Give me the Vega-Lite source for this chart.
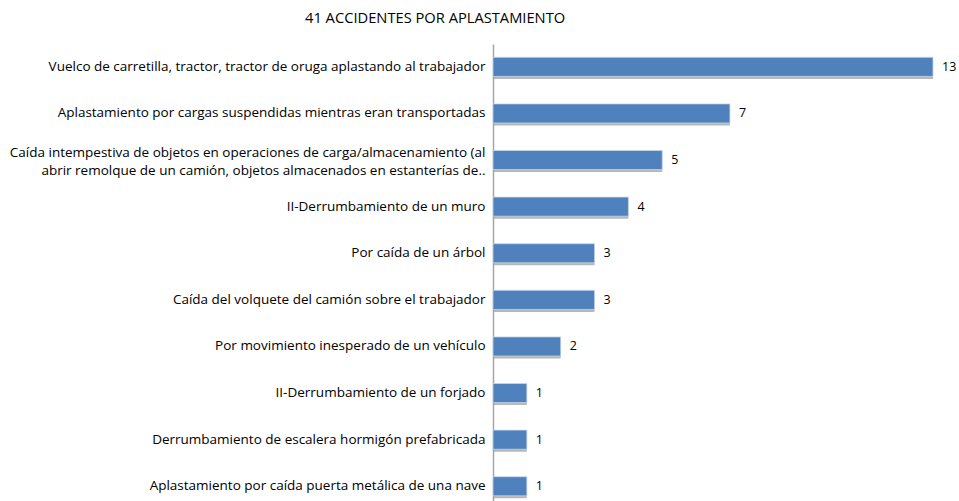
{
  "$schema": "https://vega.github.io/schema/vega-lite/v6.json",
  "autosize": {"type": "none"},
  "padding": {"top": 44, "left": 493, "right": 26, "bottom": 0},
  "width": 440,
  "height": 457,
  "title": {
    "text": "41 ACCIDENTES POR APLASTAMIENTO",
    "anchor": "start",
    "frame": "group",
    "dx": -188,
    "offset": 18,
    "fontSize": 14.7,
    "fontWeight": "normal",
    "font": "Open Sans",
    "color": "#000000"
  },
  "data": {
    "values": [
      {"causa": "Vuelco de carretilla, tractor, tractor de oruga aplastando al trabajador", "n": 13},
      {"causa": "Aplastamiento por cargas suspendidas mientras eran transportadas", "n": 7},
      {"causa": "Caída intempestiva de objetos en operaciones de carga/almacenamiento (al|abrir remolque de un camión, objetos almacenados en estanterías de..", "n": 5},
      {"causa": "II-Derrumbamiento de un muro", "n": 4},
      {"causa": "Por caída de un árbol", "n": 3},
      {"causa": "Caída del volquete del camión sobre el trabajador", "n": 3},
      {"causa": "Por movimiento inesperado de un vehículo", "n": 2},
      {"causa": "II-Derrumbamiento de un forjado", "n": 1},
      {"causa": "Derrumbamiento de escalera hormigón prefabricada", "n": 1},
      {"causa": "Aplastamiento por caída puerta metálica de una nave", "n": 1}
    ]
  },
  "encoding": {
    "y": {
      "field": "causa",
      "type": "nominal",
      "sort": null,
      "scale": {"paddingInner": 0.59, "paddingOuter": 0.198, "align": 0.72},
      "axis": {
        "title": null,
        "ticks": false,
        "domainColor": "#a6a6a6",
        "domainWidth": 1.5,
        "labelFont": "Open Sans",
        "labelFontSize": 13.5,
        "labelColor": "#000000",
        "labelLimit": 0,
        "labelPadding": 8,
        "labelLineHeight": 18,
        "labelOffset": {"condition": {"test": "indexof(datum.value, '|') >= 0", "value": -7}, "value": 0},
        "labelExpr": "split(datum.label, '|')"
      }
    },
    "x": {
      "field": "n",
      "type": "quantitative",
      "scale": {"domain": [0, 13], "nice": false},
      "axis": null
    }
  },
  "layer": [
    {
      "mark": {"type": "bar", "color": "#9a9a9a", "opacity": 0.7, "yOffset": 2.5, "x2Offset": 2}
    },
    {
      "mark": {"type": "bar", "color": "#4f81bd", "stroke": "#c8d6ea", "strokeWidth": 0.8}
    },
    {
      "mark": {"type": "text", "align": "left", "baseline": "middle", "dx": 9, "font": "Open Sans", "fontSize": 12.5, "color": "#000000"},
      "encoding": {"text": {"field": "n", "type": "quantitative"}}
    }
  ],
  "config": {"view": {"stroke": null}}
}
